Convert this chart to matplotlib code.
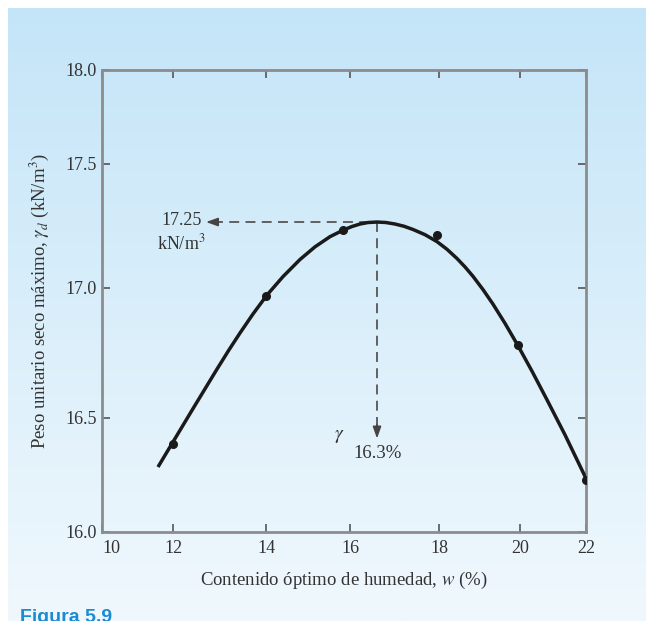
import numpy as np
import matplotlib.pyplot as plt
from matplotlib.colors import LinearSegmentedColormap

plt.rcParams['font.family'] = ['Liberation Serif', 'DejaVu Serif']
plt.rcParams['mathtext.fontset'] = 'stix'

# puntos medidos (contenido de humedad %, peso unitario seco kN/m3)
w_pts = [12, 14, 15.83, 17.96, 19.95, 22]
gd_pts = [16.386, 16.969, 17.234, 17.214, 16.78, 16.228]

# curva dibujada en la figura, leida punto a punto
w_curve = [11.577, 12.0, 12.215, 12.43, 12.688, 12.946, 13.204, 13.441, 13.72, 14.024,
           14.405, 14.81, 15.167, 15.524, 15.833, 16.045, 16.225, 16.404, 16.607, 16.809,
           17.011, 17.213, 17.416, 17.685, 17.955, 18.198, 18.444, 18.642, 18.84, 19.086,
           19.333, 19.63, 19.951, 20.364, 20.818, 21.364, 22.0]
gd_curve = [16.285, 16.395, 16.468, 16.536, 16.612, 16.688, 16.762, 16.827, 16.9, 16.973,
            17.046, 17.115, 17.166, 17.207, 17.233, 17.248, 17.258, 17.264, 17.266, 17.264,
            17.258, 17.249, 17.236, 17.215, 17.187, 17.156, 17.119, 17.085, 17.047, 16.994,
            16.938, 16.864, 16.778, 16.68, 16.57, 16.426, 16.235]

# maximo
peak_w = 16.607
peak_gd = 17.266

x_ticks = [10, 12, 14, 16, 18, 20, 22]
y_ticks = [16.0, 16.5, 17.0, 17.5, 18.0]

# la figura escaneada no tiene escala lineal: posicion de cada marca en pixeles
x_ticks_px = [102, 173, 266, 350, 439, 520, 586]
y_ticks_px = [89, 203, 333, 457, 551]  # medido desde abajo


def fx(v):
    return np.interp(v, x_ticks, x_ticks_px)


def fx_inv(p):
    return np.interp(p, x_ticks_px, x_ticks)


def fy(v):
    return np.interp(v, y_ticks, y_ticks_px)


def fy_inv(p):
    return np.interp(p, y_ticks_px, y_ticks)


W, H = 646, 621
fig = plt.figure(figsize=(W / 100, H / 100), dpi=100)

# fondo azul degradado
cmap = LinearSegmentedColormap.from_list('fondo', ['#c4e5f8', '#f0f8fd'])
bg = fig.add_axes([8 / W, 0, 1 - 8 / W, 1 - 8 / H], zorder=-1)
bg.imshow(np.linspace(0, 1, 256).reshape(-1, 1), aspect='auto', cmap=cmap, extent=[0, 1, 0, 1])
bg.axis('off')

ax = fig.add_axes([102 / W, 89 / H, (586 - 102) / W, (532 - 70) / H])
ax.set_facecolor('none')
ax.set_xscale('function', functions=(fx, fx_inv))
ax.set_yscale('function', functions=(fy, fy_inv))
ax.set_xlim(10, 22)
ax.set_ylim(16, 18)
ax.set_xticks(x_ticks)
ax.set_yticks(y_ticks)
ax.set_xticklabels([str(t) for t in x_ticks])
ax.set_yticklabels(['%.1f' % t for t in y_ticks])
ax.get_xticklabels()[0].set_ha('left')
ax.minorticks_off()

ax.plot(w_curve, gd_curve, color='#1a1a1a', lw=2.5, zorder=3, solid_capstyle='butt',
        solid_joinstyle='round')
ax.plot(w_pts, gd_pts, 'o', ms=5.5, color='#1a1a1a', zorder=4)

# lineas de trazos al maximo
dash_kw = dict(color='#555555', lw=1.3, dashes=(5.5, 3.5), zorder=2)
ax.plot([12.85, peak_w], [peak_gd, peak_gd], **dash_kw)
ax.plot([peak_w, peak_w], [peak_gd, 16.46], **dash_kw)
arr = dict(arrowstyle='-|>,head_length=0.7,head_width=0.25', color='#444444', lw=1.2,
           shrinkA=0, shrinkB=0, mutation_scale=10)
ax.annotate('', xy=(12.71, peak_gd), xytext=(12.95, peak_gd), arrowprops=arr)
ax.annotate('', xy=(peak_w, 16.41), xytext=(peak_w, 16.47), arrowprops=arr)

ax.text(12.19, 17.274, '17.25', ha='center', va='center', fontsize=13, color='#333333')
ax.text(12.17, 17.18, 'kN/m$^3$', ha='center', va='center', fontsize=13, color='#333333')
ax.text(15.74, 16.417, r'$\gamma$', ha='center', va='center', fontsize=14, color='#333333')
ax.text(16.63, 16.346, '16.3%', ha='center', va='center', fontsize=13.5, color='#333333')

for s in ax.spines.values():
    s.set_color('#8c8c8c')
    s.set_linewidth(2)
ax.tick_params(direction='in', length=6, width=1.2, color='#555555', top=True, right=True,
               labelsize=13, labelcolor='#333333')
ax.tick_params(axis='x', pad=6)
ax.tick_params(axis='y', pad=4)

ax.set_xlabel('Contenido óptimo de humedad, $w$ (%)', fontsize=13.5, color='#333333', labelpad=9)
ax.set_ylabel(r'Peso unitario seco máximo, $\gamma_d$ (kN/m$^3$)', fontsize=13.5,
              color='#333333', labelpad=10)

fig.text(20 / W, 1 - 609 / H, 'Figura 5.9', ha='left', va='top', fontsize=14,
         fontweight='bold', color='#1b8bd3', family=['Liberation Sans', 'DejaVu Sans'])

fig.savefig('out.png', dpi=100)
